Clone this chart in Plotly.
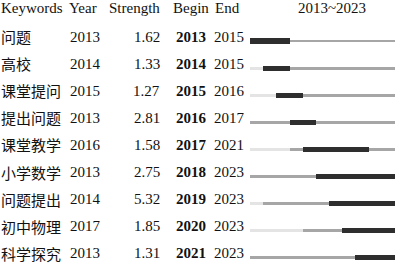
import plotly.graph_objects as go

keywords = ["问题", "高校", "课堂提问", "提出问题", "课堂教学", "小学数学", "问题提出", "初中物理", "科学探究"]
years = [2013, 2014, 2015, 2013, 2016, 2013, 2014, 2017, 2013]
strengths = [1.62, 1.33, 1.27, 2.81, 1.58, 2.75, 5.32, 1.85, 1.31]
begins = [2013, 2014, 2015, 2016, 2017, 2018, 2019, 2020, 2021]
ends = [2015, 2015, 2016, 2017, 2021, 2023, 2023, 2023, 2023]
start_year, end_year = 2013, 2023

W, H = 396, 264
row0_px, row_step = 41.0, 27.1
px_per_year = (395 - 250) / 11.0
x_left = 2012.5 - 250 / px_per_year
x_right = 2023.5 + (W - 395) / px_per_year
y_top = (0 - row0_px) / row_step
y_bot = (H - row0_px) / row_step

LIGHT, GRAY, DARK = "#e4e4e4", "#a6a6a6", "#2e2e2e"

segs = {"light": ([], [], []), "gray": ([], [], []), "dark": ([], [], [])}
def add(kind, row, a, b):
    if b < a:
        return
    ys, bases, lens = segs[kind]
    ys.append(row); bases.append(a - 0.5); lens.append(b - a + 1)

for i in range(len(keywords)):
    add("light", i, start_year, years[i] - 1)
    add("gray", i, years[i], begins[i] - 1)
    add("dark", i, begins[i], ends[i])
    add("gray", i, ends[i] + 1, end_year)

fig = go.Figure()
for kind, color, width in [("light", LIGHT, 0.11), ("gray", GRAY, 0.11), ("dark", DARK, 0.19)]:
    ys, bases, lens = segs[kind]
    fig.add_trace(go.Bar(orientation="h", y=ys, x=lens, base=bases, width=width,
                         marker=dict(color=color, line=dict(width=0)),
                         hoverinfo="skip", showlegend=False))

latin = dict(family="Liberation Serif, 'Times New Roman', serif", size=15, color="#111")
cjk = dict(family="Noto Sans CJK SC", size=15, color="#111")
anns = []
def ann(text, xpx, y, anchor="left", f=latin, bold_=False):
    anns.append(dict(text=("<b>%s</b>" % text) if bold_ else text, x=xpx / W, xref="paper",
                     y=y, yref="y", xanchor=anchor, yanchor="middle", showarrow=False, font=f))

hy = (7.5 - row0_px) / row_step
ann("Keywords", -1, hy)
ann("Year", 67, hy)
ann("Strength", 107, hy)
ann("Begin", 171, hy)
ann("End", 213, hy)
ann(f"{start_year}~{end_year}", 332, hy, anchor="center")

off = -4.5 / row_step
for i in range(len(keywords)):
    y = i + off
    ann(keywords[i], -1, y, f=cjk)
    ann(str(years[i]), 68, y)
    ann(f"{strengths[i]:.2f}", 162, y, anchor="right")
    ann(str(begins[i]), 174, y, bold_=True)
    ann(str(ends[i]), 212, y)

fig.update_layout(
    width=W, height=H, margin=dict(l=0, r=0, t=0, b=0),
    paper_bgcolor="white", plot_bgcolor="white",
    barmode="overlay", bargap=0,
    xaxis=dict(range=[x_left, x_right], visible=False, showgrid=False, zeroline=False),
    yaxis=dict(range=[y_bot, y_top], visible=False, showgrid=False, zeroline=False),
    annotations=anns,
)
fig.write_html("out.html", config={"displayModeBar": False},
               post_script="document.body.style.margin='0';document.body.style.overflow='hidden';")
